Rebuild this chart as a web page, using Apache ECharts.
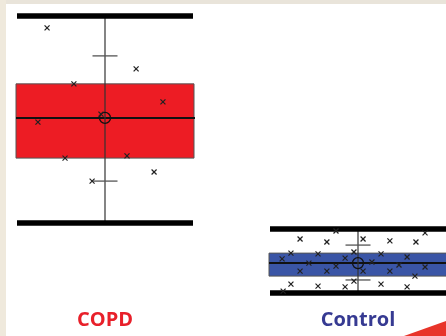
<!DOCTYPE html>
<html>
<head>
<meta charset="utf-8">
<script src="https://cdn.jsdelivr.net/npm/echarts@6/dist/echarts.min.js"></script>
<style>
html,body{margin:0;padding:0;background:#fff;}
#chart{width:446px;height:336px;}
</style>
</head>
<body>
<div id="chart"></div>
<script>
// ---- data ----
const groups = ['COPD', 'Control'];
const groupX = [1, 2];
const rangeMax = [100, 23.1];
const rangeMin = [25.3, 0];
const boxTop = [75.5, 14.4];
const boxBottom = [48.7, 6.1];
const medianVal = [63.2, 10.8];
const meanVal = [63.2, 10.8];
const sdUpper = [85.6, 17.3];
const sdLower = [40.4, 4.7];

const copdPointsX = [0.771, 1.123, 0.877, 1.229, 0.984, 0.735, 0.842, 1.087, 0.949, 1.194];
const copdPointsY = [95.7, 80.9, 75.5, 69.0, 64.6, 61.7, 48.7, 49.5, 40.4, 43.7];
const controlPointsX = [1.771, 1.877, 2.020, 2.126, 2.229, 2.265, 1.913,
  1.735, 1.842, 1.984, 2.091, 2.194,
  1.700, 1.806, 1.949, 2.055, 2.162, 2.265,
  1.771, 1.877, 1.913, 2.020, 2.126, 2.225,
  1.984, 1.735, 1.842, 1.949, 2.091, 2.194, 1.704];
const controlPointsY = [19.5, 18.4, 19.5, 18.8, 18.4, 21.7, 22.4,
  14.4, 14.1, 14.8, 14.1, 13.0,
  12.3, 10.8, 12.6, 11.2, 10.1, 9.4,
  7.9, 7.9, 9.7, 7.9, 7.9, 6.1,
  4.3, 3.2, 2.5, 2.2, 3.2, 2.2, 0.7];

const boxColors = ['#ed1c24', '#3a55a6'];
const labelColors = ['#e8202a', '#363a92'];

// ---- build ----
const groupData = groups.map((g, i) => [groupX[i], rangeMin[i], rangeMax[i], boxBottom[i], boxTop[i], medianVal[i], meanVal[i], sdLower[i], sdUpper[i]]);
const pointData = [];
copdPointsX.forEach((x, i) => pointData.push([x, copdPointsY[i]]));
controlPointsX.forEach((x, i) => pointData.push([x, controlPointsY[i]]));

const chart = echarts.init(document.getElementById('chart'), null, {renderer: 'canvas'});

function renderGroup(params, api) {
  const i = params.dataIndex;
  const x = api.value(0);
  const pMin = api.coord([x, api.value(1)]);
  const pMax = api.coord([x, api.value(2)]);
  const pB = api.coord([x, api.value(3)]);
  const pT = api.coord([x, api.value(4)]);
  const pMed = api.coord([x, api.value(5)]);
  const pMean = api.coord([x, api.value(6)]);
  const pSL = api.coord([x, api.value(7)]);
  const pSU = api.coord([x, api.value(8)]);
  const cx = pMin[0];
  const bh = 89, rh = 88, th = 12.5;
  return {
    type: 'group',
    children: [
      {type: 'rect', shape: {x: cx - bh, y: pT[1], width: bh * 2, height: pB[1] - pT[1]},
        style: {fill: boxColors[i], stroke: '#555', lineWidth: 1}},
      {type: 'line', shape: {x1: cx - bh, y1: pMed[1], x2: cx + bh + 1, y2: pMed[1]},
        style: {stroke: '#111', lineWidth: 2}},
      {type: 'line', shape: {x1: cx, y1: pMax[1], x2: cx, y2: pMin[1]},
        style: {stroke: '#333', lineWidth: 1.2}},
      {type: 'line', shape: {x1: cx - th, y1: pSU[1], x2: cx + th, y2: pSU[1]},
        style: {stroke: '#555', lineWidth: 1.3}},
      {type: 'line', shape: {x1: cx - th, y1: pSL[1], x2: cx + th, y2: pSL[1]},
        style: {stroke: '#555', lineWidth: 1.3}},
      {type: 'line', shape: {x1: cx - rh, y1: pMax[1], x2: cx + rh, y2: pMax[1]},
        style: {stroke: '#000', lineWidth: 5.5}},
      {type: 'line', shape: {x1: cx - rh, y1: pMin[1], x2: cx + rh, y2: pMin[1]},
        style: {stroke: '#000', lineWidth: 5.5}},
      {type: 'circle', shape: {cx: cx, cy: pMean[1], r: 5.5},
        style: {fill: 'none', stroke: '#111', lineWidth: 1.3}}
    ]
  };
}

function renderCross(params, api) {
  const p = api.coord([api.value(0), api.value(1)]);
  const s = 2.5;
  return {
    type: 'group',
    children: [
      {type: 'line', shape: {x1: p[0] - s, y1: p[1] - s, x2: p[0] + s, y2: p[1] + s}, style: {stroke: '#222', lineWidth: 1.2}},
      {type: 'line', shape: {x1: p[0] - s, y1: p[1] + s, x2: p[0] + s, y2: p[1] - s}, style: {stroke: '#222', lineWidth: 1.2}}
    ]
  };
}

chart.setOption({
  animation: false,
  backgroundColor: '#fff',
  grid: {left: 0, right: 0, top: 16, bottom: 43},
  xAxis: {type: 'value', min: 1 - 105 / 253, max: 1 + 341 / 253, show: false},
  yAxis: {type: 'value', min: 0, max: 100, show: false},
  series: [
    {type: 'custom', name: 'groups', renderItem: renderGroup, data: groupData, clip: false, z: 2},
    {type: 'custom', name: 'points', renderItem: renderCross, data: pointData, clip: false, z: 3}
  ]
});

const labelGraphics = groups.map((g, i) => {
  const px = chart.convertToPixel({gridIndex: 0}, [groupX[i], 0]);
  return {
    type: 'text', x: px[0], y: 320,
    style: {text: g, fill: labelColors[i], font: 'bold 20px "Open Sans", sans-serif', align: 'center', verticalAlign: 'middle'}
  };
});

chart.setOption({
  graphic: [
    {type: 'rect', shape: {x: 0, y: 0, width: 446, height: 4}, style: {fill: '#e9e4da'}, z: 10},
    {type: 'rect', shape: {x: 0, y: 0, width: 6, height: 336}, style: {fill: '#efe9dc'}, z: 10},
    {type: 'polygon', shape: {points: [[404, 336], [446, 321], [446, 336]]}, style: {fill: '#e8342a'}, z: 10}
  ].concat(labelGraphics)
});
</script>
</body>
</html>
